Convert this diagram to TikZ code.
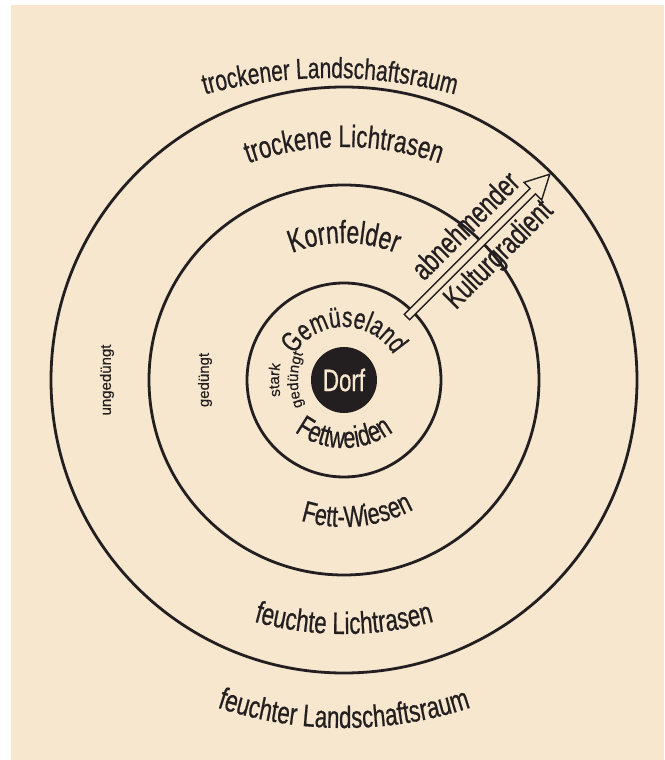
\documentclass[tikz,border=0pt]{standalone}
\usepackage{fontspec}
\setmainfont{Liberation Sans}
\newfontfamily\narrowsf{Liberation Sans}[FakeStretch=0.72,FakeBold=0.6]
\newfontfamily\plainsf{Liberation Sans}[FakeBold=0.3]
\usetikzlibrary{positioning,decorations.text}

\definecolor{paper}{RGB}{246,231,206}
\definecolor{ink}{RGB}{35,31,32}

\newcommand{\lblsize}[1]{\narrowsf\fontsize{#1}{#1}\selectfont}
\newcommand{\lblsmall}{\plainsf\fontsize{15}{17}\selectfont}

\begin{document}
\begin{tikzpicture}[x=1pt,y=1pt]
    \tikzstyle{ring}=[circle,draw=ink,line width=2.8pt,inner sep=0pt]
    \tikzstyle{dorfbox}=[circle,fill=ink,text=paper,minimum size=66pt,inner sep=0pt,font=\lblsize{31}]
    \tikzstyle{arctext}=[decorate,decoration={text along path,text align=center}]
    \tikzstyle{tag}=[inner sep=0pt,text=ink,font=\lblsmall,rotate=90]   % vertical labels
    \tikzstyle{grad}=[inner sep=0pt,text=ink,font=\lblsize{31},rotate=45]   % along the arrow

    \useasboundingbox (-344,-380) rectangle (320,380);
    \fill[paper] (-333,-380) rectangle (320,375);

    % rings round the village
    \node[dorfbox] (dorf) at (0,0) {Dorf};
    \node[ring,minimum size=194pt] (inner) at (dorf) {};
    \node[ring,minimum size=390pt] (middle) at (dorf) {};
    \node[ring,minimum size=586pt] (outer) at (dorf) {};

    % gradient arrow
    \coordinate (gradfoot) at (45:89);
    \begin{scope}[shift={(gradfoot)},rotate=45]
        \draw[ink,fill=paper,line width=1.4pt] (0,-3.8) -- (178,-3.8) -- (178,-12.5) -- (202,0)
            -- (178,12.5) -- (178,3.8) -- (0,3.8) -- cycle;
        \node[grad] (abn) at (106,24) {abnehmender};
        \node[grad] (kult) at (109,-22) {Kulturgradient};
    \end{scope}

    % upper labels
    \path[arctext,decoration={text={|\color{ink}\lblsize{29}|trockener Landschaftsraum}}]
        (-494,-178) arc[start angle=180,end angle=0,radius=480];
    \path[arctext,decoration={text={|\color{ink}\lblsize{31}|trockene Lichtrasen}}]
        (-285,-52) arc[start angle=180,end angle=0,radius=285];
    \path[arctext,decoration={text={|\color{ink}\lblsize{32}|Kornfelder}}]
        (180:137) arc[start angle=180,end angle=0,radius=137];
    \path[arctext,decoration={text={|\color{ink}\lblsize{29}|Gemüseland}}]
        (-58,-5) arc[start angle=180,end angle=0,radius=58];

    % lower labels
    \path[arctext,decoration={text={|\color{ink}\lblsize{30}|Fettweiden}}]
        (-83,15) arc[start angle=180,end angle=360,radius=83];
    \path[arctext,decoration={text={|\color{ink}\lblsize{30}|Fett-Wiesen}}]
        (185.6:147) arc[start angle=185.6,end angle=365.6,radius=147];
    \path[arctext,decoration={text={|\color{ink}\lblsize{31}|feuchte Lichtrasen}}]
        (-330,76) arc[start angle=180,end angle=360,radius=330];
    \path[arctext,decoration={text={|\color{ink}\lblsize{31}|feuchter Landschaftsraum}}]
        (-400,52) arc[start angle=180,end angle=360,radius=400];

    % fertilising
    \path[arctext,decoration={text={|\color{ink}\lblsmall|stark}}]
        (-52.9,-45) arc[start angle=210,end angle=150,radius=90];
    \path[arctext,decoration={text={|\color{ink}\lblsmall|gedüngt}}]
        (-29.4,-45.6) arc[start angle=220,end angle=140,radius=71];
    \node[tag] (ged) at (-139,0) {gedüngt};
    \node[tag] (unged) at (-237,0) {ungedüngt};
\end{tikzpicture}
\end{document}
